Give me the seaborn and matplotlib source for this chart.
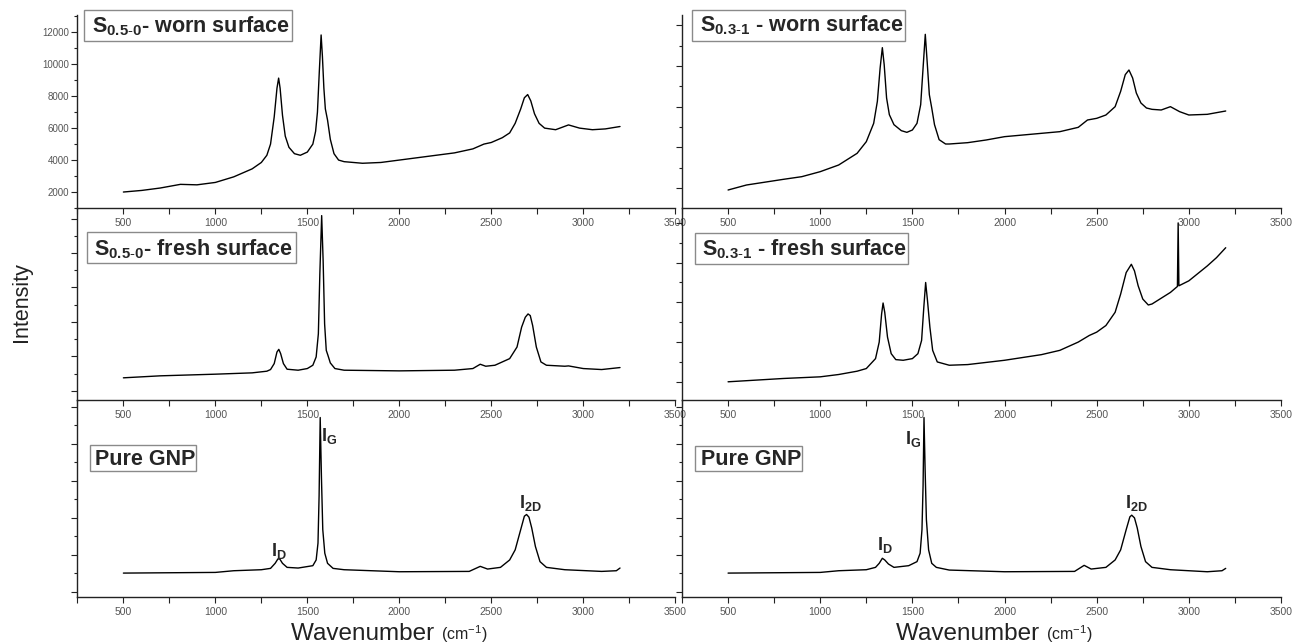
import matplotlib
matplotlib.use("Agg")
import matplotlib.pyplot as plt
import seaborn as sns
import pandas as pd
import numpy as np
from matplotlib.patches import Rectangle
from matplotlib.ticker import MultipleLocator, FixedLocator

# ---------------- data ----------------
# S0.5-0 worn surface (counts)
wn_tl = [500, 600, 700, 810, 900, 1000, 1100, 1200, 1250, 1280, 1300, 1320, 1335, 1344, 1352,
         1365, 1380, 1400, 1430, 1462, 1500, 1530, 1545, 1555, 1565, 1575, 1582, 1590, 1598,
         1610, 1625, 1645, 1670, 1700, 1800, 1900, 2000, 2100, 2200, 2300, 2400, 2460, 2500,
         2560, 2600, 2630, 2660, 2680, 2698, 2715, 2735, 2760, 2790, 2850, 2920, 2980, 3050,
         3120, 3200]
it_tl = [2000, 2100, 2250, 2480, 2450, 2600, 2950, 3450, 3850, 4300, 5000, 6700, 8500, 9130, 8500,
         6800, 5500, 4800, 4400, 4300, 4500, 5000, 5800, 7000, 9500, 11830, 10500, 8500, 7200,
         6500, 5300, 4400, 4000, 3900, 3800, 3850, 4000, 4150, 4300, 4450, 4700, 5000, 5100,
         5400, 5700, 6300, 7200, 7900, 8100, 7700, 6900, 6300, 6000, 5900, 6200, 6000, 5900,
         5950, 6100]

# S0.5-0 fresh surface (a.u.)
wn_ml = [500, 700, 1000, 1200, 1280, 1300, 1320, 1335, 1345, 1355, 1370, 1390, 1450, 1500, 1530,
         1548, 1560, 1568, 1578, 1586, 1594, 1603, 1612, 1625, 1650, 1700, 2000, 2300, 2400,
         2440, 2470, 2520, 2580, 2600, 2640, 2665, 2685, 2700, 2712, 2725, 2745, 2770, 2800,
         2900, 2920, 3000, 3100, 3200]
it_ml = [67, 73, 78, 82, 87, 92, 110, 145, 153, 140, 110, 93, 90, 95, 105,
         130, 200, 380, 557, 420, 230, 150, 135, 112, 95, 90, 88, 90, 95,
         108, 102, 105, 120, 125, 160, 220, 250, 260, 255, 225, 160, 115, 105,
         102, 103, 95, 92, 98]

# Pure GNP (left, a.u.)
wn_bl = [500, 1000, 1100, 1250, 1300, 1325, 1340, 1350, 1365, 1390, 1450, 1530, 1548, 1558,
         1564, 1570, 1577, 1584, 1595, 1610, 1640, 1700, 2000, 2380, 2440, 2480, 2550, 2600,
         2630, 2660, 2680, 2692, 2705, 2720, 2740, 2765, 2800, 2900, 3100, 3180, 3200]
it_bl = [71, 73, 78, 81, 85, 100, 113, 113, 100, 88, 86, 93, 110, 160,
         300, 533, 350, 200, 130, 100, 85, 81, 75, 76, 91, 83, 88, 110,
         140, 200, 240, 245, 237, 205, 150, 105, 88, 81, 76, 78, 86]

# S0.3-1 worn surface (a.u.)
wn_tr = [500, 600, 800, 900, 1000, 1100, 1200, 1250, 1290, 1310, 1325, 1337, 1347, 1360, 1375,
         1400, 1440, 1470, 1500, 1525, 1545, 1558, 1570, 1580, 1592, 1605, 1620, 1645, 1680,
         1700, 1800, 1900, 2000, 2200, 2300, 2400, 2450, 2500, 2550, 2600, 2630, 2655, 2675,
         2695, 2715, 2740, 2770, 2800, 2850, 2900, 2950, 3000, 3100, 3200]
it_tr = [54, 69, 86, 94, 109, 129, 164, 199, 254, 320, 420, 481, 430, 330, 280,
         250, 232, 227, 234, 254, 310, 420, 521, 440, 340, 300, 250, 205, 192,
         192, 196, 204, 214, 224, 229, 242, 264, 269, 279, 304, 350, 400, 414,
         390, 345, 315, 300, 296, 294, 304, 289, 279, 281, 291]

# S0.3-1 fresh surface (a.u.)
wn_mr = [500, 800, 1000, 1100, 1200, 1250, 1300, 1320, 1333, 1341, 1350, 1365, 1385, 1410, 1450,
         1500, 1530, 1550, 1562, 1572, 1582, 1595, 1610, 1635, 1700, 1800, 2000, 2200, 2300,
         2400, 2460, 2500, 2550, 2600, 2630, 2660, 2688, 2705, 2725, 2750, 2780, 2800, 2900,
         2938, 2942, 2946, 3000, 3100, 3150, 3200]
it_mr = [55, 65, 70, 77, 87, 95, 125, 175, 260, 293, 265, 190, 140, 122, 120,
         125, 140, 180, 280, 355, 300, 220, 150, 115, 105, 107, 120, 137, 150,
         175, 195, 205, 225, 265, 320, 385, 410, 390, 345, 305, 287, 290, 325,
         343, 535, 345, 360, 405, 430, 460]

# Pure GNP (right, a.u.)
wn_br = [500, 1000, 1100, 1250, 1300, 1320, 1337, 1350, 1370, 1400, 1480, 1525, 1542, 1552,
         1558, 1563, 1569, 1576, 1588, 1605, 1630, 1700, 2000, 2380, 2432, 2470, 2550, 2600,
         2630, 2660, 2680, 2690, 2705, 2720, 2740, 2765, 2800, 2900, 3100, 3180, 3200]
it_br = [71, 73, 78, 81, 88, 100, 115, 110, 98, 88, 93, 105, 130, 200,
         330, 533, 380, 230, 140, 100, 88, 80, 75, 76, 94, 83, 88, 110,
         140, 200, 238, 243, 235, 205, 150, 105, 88, 81, 75, 78, 85]

panel_titles = [
    r"$\mathbf{S_{0.5\text{-}0}}$- worn surface",
    r"$\mathbf{S_{0.3\text{-}1}}$ - worn surface",
    r"$\mathbf{S_{0.5\text{-}0}}$- fresh surface",
    r"$\mathbf{S_{0.3\text{-}1}}$ - fresh surface",
    "Pure GNP",
    "Pure GNP",
]
x_ticks = [500, 1000, 1500, 2000, 2500, 3000, 3500]
y_ticks_tl = [2000, 4000, 6000, 8000, 10000, 12000]

# ---------------- style ----------------
sns.set_style("ticks")
plt.rcParams["font.family"] = ["Liberation Sans", "DejaVu Sans"]
plt.rcParams["mathtext.fontset"] = "custom"
plt.rcParams["mathtext.rm"] = "Liberation Sans"
plt.rcParams["mathtext.it"] = "Liberation Sans:italic"
plt.rcParams["mathtext.bf"] = "Liberation Sans:bold"

W, H = 1295, 644
fig = plt.figure(figsize=(W / 100, H / 100), dpi=100)
fig.patch.set_facecolor("white")

cols = [(77.4, 675.2), (682.0, 1281.0)]
rows = [(15.0, 208.0), (208.0, 400.0), (400.0, 597.0)]
ylims = [[(1000, 13080), (0, 579)], [(0, 580), (0, 580)], [(0, 585), (0, 585)]]
spectra = [[(wn_tl, it_tl), (wn_tr, it_tr)],
           [(wn_ml, it_ml), (wn_mr, it_mr)],
           [(wn_bl, it_bl), (wn_br, it_br)]]
# y tick positions (a.u.) for unlabeled panels: (start, step)
ytick_spec = [[None, (60, 61)], [(28, 52), (55, 60)], [(15, 55), (15, 55)]]


def fx(px):
    return px / W


def fy(py):
    return 1 - py / H


axes = {}
for r in range(3):
    for c in range(2):
        l, rr = cols[c]
        t, b = rows[r]
        ax = fig.add_axes([fx(l), fy(b), (rr - l) / W, (b - t) / H])
        ax.patch.set_visible(False)
        wn, it = spectra[r][c]
        df = pd.DataFrame({"wn": wn, "I": it})
        sns.lineplot(data=df, x="wn", y="I", ax=ax, color="black", lw=1.0,
                     estimator=None, sort=True)
        ax.set_xlim(250, 3500)
        ax.set_ylim(*ylims[r][c])
        ax.set_xlabel("")
        ax.set_ylabel("")
        for s in ["top", "right"]:
            ax.spines[s].set_visible(False)
        for s in ["left", "bottom"]:
            ax.spines[s].set_linewidth(1.0)
            ax.spines[s].set_color("#222222")
        ax.xaxis.set_major_locator(FixedLocator(x_ticks))
        ax.xaxis.set_minor_locator(MultipleLocator(250))
        ax.tick_params(axis="x", which="major", direction="out", length=4, width=0.8,
                       labelsize=7.5, labelcolor="#555555", pad=3, color="#222222")
        ax.tick_params(axis="x", which="minor", direction="out", length=4, width=0.8,
                       color="#222222")
        ax.tick_params(axis="y", which="major", direction="out", length=4, width=0.8,
                       labelsize=7, labelcolor="#555555", pad=2, color="#222222")
        ax.tick_params(axis="y", which="minor", direction="out", length=2.5, width=0.8,
                       color="#222222")
        if r == 0 and c == 0:
            ax.yaxis.set_major_locator(FixedLocator(y_ticks_tl))
            ax.yaxis.set_minor_locator(MultipleLocator(1000))
        else:
            start, step = ytick_spec[r][c]
            top = ylims[r][c][1]
            ax.yaxis.set_major_locator(FixedLocator(np.arange(start, top, 2 * step)))
            ax.yaxis.set_minor_locator(FixedLocator(np.arange(start + step, top, 2 * step)))
            ax.set_yticklabels([])
        axes[(r, c)] = ax

# ---------------- label boxes ----------------
boxes = [  # (x0, y0, x1, y1, text_x, baseline_y, title index)
    (84, 10, 292, 41, 91.5, 32.5, 0),
    (692, 10, 905, 41, 700, 31.0, 1),
    (87, 232, 296, 263, 93.5, 255.5, 2),
    (695, 233, 908, 264, 702, 255.5, 3),
    (90, 445, 196, 471, 95.5, 465, 4),
    (695, 446, 802, 471, 701, 465, 5),
]
for x0, y0, x1, y1, tx, ty, k in boxes:
    fig.patches.append(Rectangle((fx(x0), fy(y1)), (x1 - x0) / W, (y1 - y0) / H,
                                 transform=fig.transFigure, facecolor="white",
                                 edgecolor="#8a8a8a", lw=1.0, zorder=5))
    fig.text(fx(tx), fy(ty), panel_titles[k], fontsize=15.5, fontweight="bold",
             ha="left", va="baseline", zorder=6)

# ---------------- peak labels ----------------
peak_labels = [  # (row, col, x data, y data, text)
    (2, 0, 1348, 138, r"$\mathbf{I_D}$"),
    (2, 0, 1619, 478, r"$\mathbf{I_G}$"),
    (2, 0, 2715, 278, r"$\mathbf{I_{2D}}$"),
    (2, 1, 1351, 153, r"$\mathbf{I_D}$"),
    (2, 1, 1503, 468, r"$\mathbf{I_G}$"),
    (2, 1, 2713, 278, r"$\mathbf{I_{2D}}$"),
]
for r, c, x, y, t in peak_labels:
    axes[(r, c)].text(x, y, t, fontsize=13, ha="center", va="center")

# ---------------- axis titles ----------------
fig.text(fx(22), fy(302), "Intensity", rotation=90, fontsize=15.5, ha="center", va="center",
         color="#222222")
for lx in (291, 896):
    t1 = fig.text(fx(lx), fy(640), "Wavenumber ", fontsize=17.5, ha="left", va="baseline",
                  color="#222222")
    axes[(2, 0)].annotate(r"(cm$^{-1}$)", xy=(1, 0), xycoords=t1, fontsize=11.5,
                          ha="left", va="bottom", color="#222222", annotation_clip=False)

fig.savefig("out.png", dpi=100, facecolor="white")
